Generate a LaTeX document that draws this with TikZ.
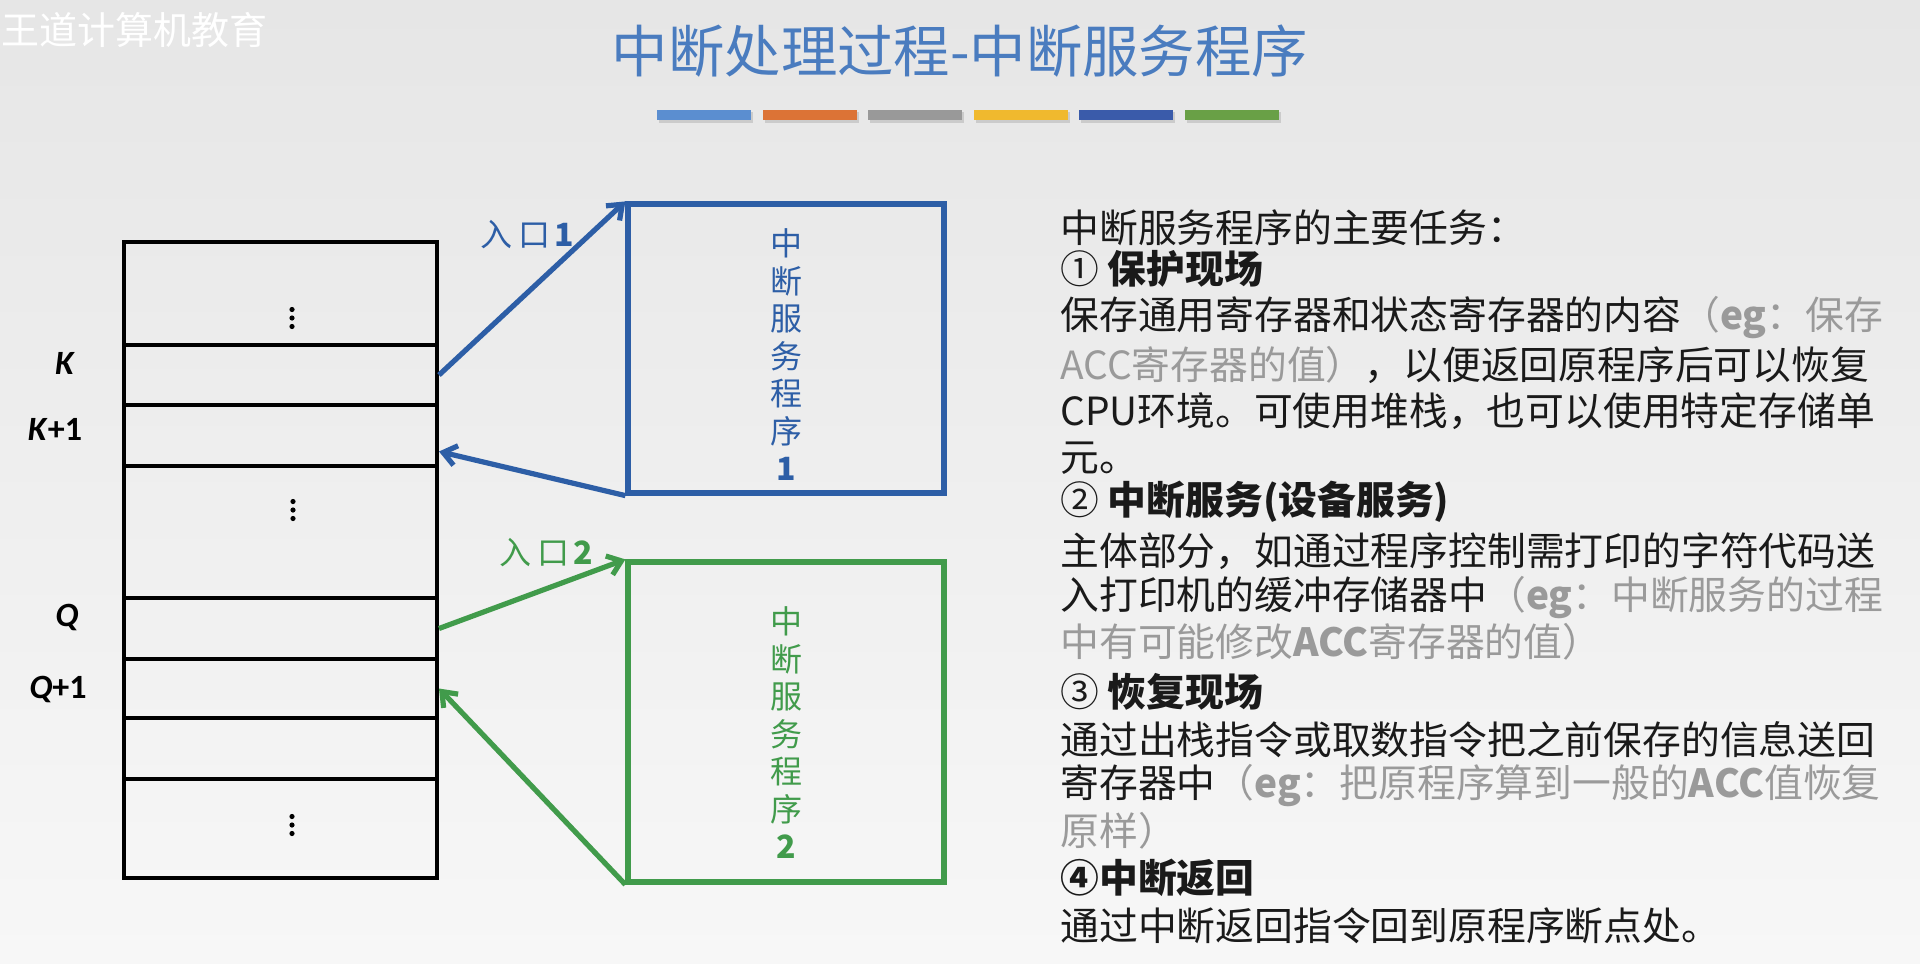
\documentclass[tikz,border=0pt]{standalone}
\usepackage{fontspec}
\newfontfamily\cjk{Noto Sans CJK SC}
\newfontfamily\carl{Carlito}
\usetikzlibrary{arrows.meta,calc}
\definecolor{bgtop}{HTML}{E6E6E6}
\definecolor{bgbot}{HTML}{F7F7F7}
\definecolor{titleblue}{HTML}{4A7CBF}
\definecolor{boxblue}{HTML}{2D5EA6}
\definecolor{boxgreen}{HTML}{419B4B}
\definecolor{txtgray}{HTML}{9A9A9A}
\definecolor{txtblack}{HTML}{1A1A1A}
\definecolor{barA}{HTML}{5B8ED0}
\definecolor{barB}{HTML}{DC7336}
\definecolor{barC}{HTML}{999999}
\definecolor{barD}{HTML}{F0B92E}
\definecolor{barE}{HTML}{3A5BAA}
\definecolor{barF}{HTML}{69A046}
\newcommand\gtxt[1]{\textcolor{txtgray}{#1}}
\begin{document}
\begin{tikzpicture}[x=0.5pt,y=-0.5pt,
  memrow/.style={draw=black, line width=2pt, minimum width=156.5pt, inner sep=0pt},
  addrlbl/.style={font=\carl\bfseries\fontsize{17}{17}\selectfont, text=black, inner sep=0pt},
  progbox/.style={line width=2.6pt, minimum width=158pt, inner sep=0pt},
  progtext/.style={font=\cjk\fontsize{16}{18.75}\selectfont, align=center, inner sep=0pt},
  entrylbl/.style={font=\cjk\fontsize{16}{16}\selectfont, inner sep=0pt},
  arr/.style={line width=2.6pt, -{Straight Barb[length=6.5pt,width=10pt]}},
  rtext/.style={anchor=west, inner sep=0pt, text=txtblack, font=\cjk\fontsize{19.4}{23}\selectfont}
]
\useasboundingbox (0,0) rectangle (1920,963);
\shade[top color=bgtop, bottom color=bgbot] (0,0) rectangle (1920,963);

% watermark
\node[anchor=west, text=white, font=\cjk\fontsize{19}{19}\selectfont, inner sep=0pt] (wm) at (1,30) {王道计算机教育};

% title
\node[font=\cjk\fontsize{28.2}{28.2}\selectfont, text=titleblue, inner sep=0pt] (title) at (960,51) {中断处理过程-中断服务程序};

% colour bars
\foreach \c [count=\i from 0] in {barA,barB,barC,barD,barE,barF}{
  \fill[black, opacity=0.12] ({659+\i*105.6},112) rectangle ++(94,11);
  \fill[\c] ({657+\i*105.6},110) rectangle ++(94,10);
}

% memory table
\node[memrow, minimum height=51.5pt] (r1) at (280.5,293.5) {};
\node[memrow, minimum height=30pt]   (r2) at (280.5,375) {};
\node[memrow, minimum height=30.5pt] (r3) at (280.5,435.5) {};
\node[memrow, minimum height=66pt]   (r4) at (280.5,532) {};
\node[memrow, minimum height=30.5pt] (r5) at (280.5,628.5) {};
\node[memrow, minimum height=29.5pt] (r6) at (280.5,688.5) {};
\node[memrow, minimum height=30.5pt] (r7) at (280.5,748.5) {};
\node[memrow, minimum height=49.5pt] (r8) at (280.5,828.5) {};

% vertical ellipses
\foreach \cx/\cy in {292/318, 293/510, 292/825}{
  \foreach \dy in {-8.5,0,8.5}{
    \fill[black] (\cx,\cy+\dy) circle[radius=1.3pt];
  }
}

\node[addrlbl] (lK)  at (65,363) {\textit{K}};
\node[addrlbl] (lK1) at (55,429) {\textit{K}+1};
\node[addrlbl] (lQ)  at (67,617) {\textit{Q}};
\node[addrlbl] (lQ1) at (58,689) {\textit{Q}+1};

% service routine boxes
\node[progbox, draw=boxblue, minimum height=144.5pt] (b1) at (786,348.5) {};
\node[progtext, text=boxblue] (t1) at (786,355) {中\\断\\服\\务\\程\\序\\\textbf{1}};
\node[progbox, draw=boxgreen, minimum height=160pt] (b2) at (786,722) {};
\node[progtext, text=boxgreen] (t2) at (786,733) {中\\断\\服\\务\\程\\序\\\textbf{2}};

% entry labels
\node[entrylbl, text=boxblue] (e1) at (527,235) {入\hspace{3pt}口\hspace{2pt}\textbf{1}};
\node[entrylbl, text=boxgreen] (e2) at (546,553) {入\hspace{3pt}口\hspace{2pt}\textbf{2}};

% connectors
\draw[arr, boxblue] (r2.east) -- (b1.north west);
\draw[arr, boxblue] (b1.south west) -- ($(r3.east)+(0,16)$);
\draw[arr, boxgreen] (r5.east) -- (b2.north west);
\draw[arr, boxgreen] (b2.south west) -- (r6.east);

% right text
\node[rtext] (l1)  at (1060,228) {中断服务程序的主要任务：};
\node[rtext] (l2)  at (1060,269) {① \textbf{保护现场}};
\node[rtext] (l3)  at (1060,318) {保存通用寄存器和状态寄存器的内容\gtxt{（\textbf{eg}：保存}};
\node[rtext] (l4)  at (1060,365) {\gtxt{ACC寄存器的值）}，以便返回原程序后可以恢复};
\node[rtext] (l5)  at (1060,411) {CPU环境。可使用堆栈，也可以使用特定存储单};
\node[rtext] (l6)  at (1060,458) {元。};
\node[rtext] (l7)  at (1060,502) {② \textbf{中断服务(设备服务)}};
\node[rtext] (l8)  at (1060,551) {主体部分，如通过程序控制需打印的字符代码送};
\node[rtext] (l9)  at (1060,598) {入打印机的缓冲存储器中\gtxt{（\textbf{eg}：中断服务的过程}};
\node[rtext] (l10) at (1060,642) {\gtxt{中有可能修改\textbf{ACC}寄存器的值）}};
\node[rtext] (l11) at (1060,692) {③ \textbf{恢复现场}};
\node[rtext] (l12) at (1060,740) {通过出栈指令或取数指令把之前保存的信息送回};
\node[rtext] (l13) at (1060,786) {寄存器中\gtxt{（\textbf{eg}：把原程序算到一般的\textbf{ACC}值恢复}};
\node[rtext] (l14) at (1060,831) {\gtxt{原样）}};
\node[rtext] (l15) at (1060,878) {\textbf{④中断返回}};
\node[rtext] (l16) at (1060,926) {通过中断返回指令回到原程序断点处。};
\end{tikzpicture}
\end{document}
